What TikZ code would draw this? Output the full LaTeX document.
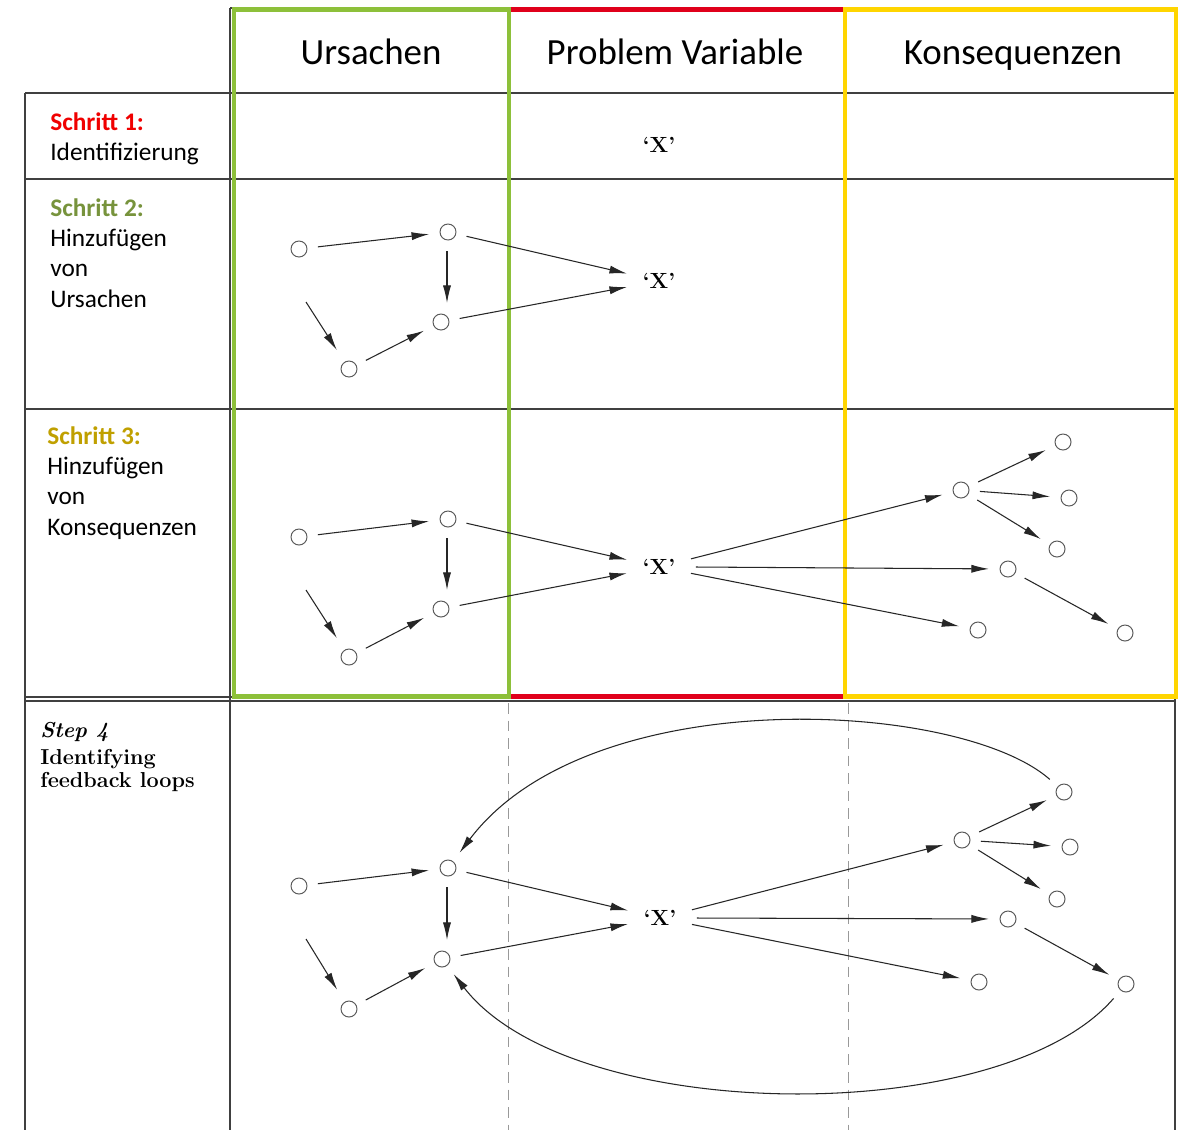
\documentclass[tikz,border=0pt]{standalone}
\usepackage{fontspec}
\newfontfamily\calib{Carlito}
\usetikzlibrary{arrows.meta}
\definecolor{boxgreen}{HTML}{8DC03A}
\definecolor{boxred}{HTML}{E0001B}
\definecolor{boxyellow}{HTML}{FFD500}
\definecolor{labred}{HTML}{F00000}
\definecolor{labgreen}{HTML}{77933C}
\definecolor{labyellow}{HTML}{C0A000}
\begin{document}
\begin{tikzpicture}[x=0.02cm,y=-0.02cm,
  tline/.style={draw=black!75, line width=0.7pt},
  dline/.style={draw=black!40, line width=0.5pt, dash pattern=on 6pt off 4pt},
  circ/.style={circle, draw=black!65, line width=0.55pt, minimum size=0.32cm, inner sep=0pt, outer sep=0.22cm},
  xnode/.style={font=\bfseries\fontsize{12.5}{14}\selectfont, inner sep=1pt, outer sep=0.28cm},
  arr/.style={-{Latex[length=10pt,width=4.6pt]}, draw=black!85, line width=0.6pt},
  head/.style={font=\calib\fontsize{21}{25}\selectfont, anchor=base},
  lab/.style={font=\calib\fontsize{14.4}{17.1}\selectfont, align=left, anchor=north west, inner sep=0pt},
  slab/.style={font=\fontsize{12.3}{13.2}\selectfont, align=left, anchor=north west, inner sep=0pt}]
\useasboundingbox (0,0) rectangle (1182,1130);
\fill[white] (0,0) rectangle (1182,1130);

% ---------- table grid ----------
\draw[tline] (230,8) -- (1175,8);
\draw[tline] (230,8) -- (230,1130);
\draw[tline] (508,8) -- (508,698);
\draw[tline] (845,8) -- (845,698);
\draw[tline] (1175,8) -- (1175,1130);
\draw[tline] (25,93) -- (25,1130);
\draw[tline] (25,93) -- (1175,93);
\draw[tline] (25,179) -- (1175,179);
\draw[tline] (25,409) -- (1175,409);
\draw[tline] (25,697) -- (1175,697);
\draw[tline] (25,701) -- (1175,701);
\draw[dline] (508,703) -- (508,1130);
\draw[dline] (848,703) -- (848,1130);

% ---------- coloured frames ----------
\draw[boxred, line width=2.8pt] (509,9.5) -- (845,9.5);
\draw[boxred, line width=2.8pt] (509,696.5) -- (845,696.5);
\draw[boxgreen, line width=2.8pt] (234,9.5) rectangle (509,696.5);
\draw[boxyellow, line width=2.8pt] (845,9.5) rectangle (1176,696.5);

% ---------- headers ----------
\node[head] (h1) at (371,64) {Ursachen};
\node[head] (h2) at (675,64) {Problem Variable};
\node[head] (h3) at (1013,64) {Konsequenzen};

% ---------- row labels ----------
\node[lab] (l1) at (50,112) {\textbf{\color{labred}Schritt 1:}\\Identifizierung};
\node[lab, font=\calib\fontsize{14.4}{17.3}\selectfont] (l2) at (50,198) {\textbf{\color{labgreen}Schritt 2:}\\Hinzufügen\\von\\Ursachen};
\node[lab, font=\calib\fontsize{14.4}{17.3}\selectfont] (l3) at (47,426) {\textbf{\color{labyellow}Schritt 3:}\\Hinzufügen\\von\\Konsequenzen};
\node[slab] (l4) at (40,722) {\textit{\textbf{Step 4}}\\[2pt]\textbf{Identifying}\\\textbf{feedback loops}};

% ---------- row 1 ----------
\node[xnode] (x1) at (659,145) {`X'};

% ---------- row 2 ----------
\node[xnode] (x2) at (659,281) {`X'};
\node[circ] (a1) at (299,249) {};
\node[circ] (a2) at (448,232) {};
\node[circ] (a3) at (441,322) {};
\node[circ] (a4) at (349,369) {};
\coordinate (s2) at (306,302);
\draw[arr] (a1) -- (a2);
\draw[arr] ([xshift=-0.02cm]a2.south) -- ([xshift=-0.02cm]a2.south |- a3.north);
\draw[arr, shorten >=2pt] (s2) -- (a4);
\draw[arr] (a4) -- (a3);
\draw[arr] (a2) -- (x2);
\draw[arr] (a3) -- (x2);

% ---------- row 3 ----------
\node[xnode] (x3) at (659,567) {`X'};
\node[circ] (b1) at (299,537) {};
\node[circ] (b2) at (448,519) {};
\node[circ] (b3) at (441,609) {};
\node[circ] (b4) at (349,657) {};
\coordinate (s3) at (306,590);
\draw[arr] (b1) -- (b2);
\draw[arr] ([xshift=-0.02cm]b2.south) -- ([xshift=-0.02cm]b2.south |- b3.north);
\draw[arr, shorten >=2pt] (s3) -- (b4);
\draw[arr] (b4) -- (b3);
\draw[arr] (b2) -- (x3);
\draw[arr] (b3) -- (x3);
\node[circ] (c1) at (961,490) {};
\node[circ] (c1a) at (1063,442) {};
\node[circ] (c1b) at (1069,498) {};
\node[circ] (c1c) at (1057,549) {};
\node[circ] (c2) at (1008,569) {};
\node[circ] (c3) at (1125,633) {};
\node[circ] (c4) at (978,630) {};
\draw[arr] (x3) -- (c1);
\draw[arr] (x3.east) ++(0.1cm,0) -- (c2);
\draw[arr] (x3) -- (c4);
\draw[arr] (c1) -- (c1a);
\draw[arr] (c1) -- (c1b);
\draw[arr] (c1) -- (c1c);
\draw[arr] (c2) -- (c3);

% ---------- row 4 ----------
\node[xnode] (x4) at (660,918) {`X'};
\node[circ] (d1) at (299,886) {};
\node[circ] (d2) at (448,868) {};
\node[circ] (d3) at (442,959) {};
\node[circ] (d4) at (349,1009) {};
\coordinate (s4) at (306,939);
\draw[arr] (d1) -- (d2);
\draw[arr] ([xshift=-0.02cm]d2.south) -- ([xshift=-0.02cm]d2.south |- d3.north);
\draw[arr, shorten >=2pt] (s4) -- (d4);
\draw[arr] (d4) -- (d3);
\draw[arr] (d2) -- (x4);
\draw[arr] (d3) -- (x4);
\node[circ] (e1) at (962,840) {};
\node[circ] (e1a) at (1064,792) {};
\node[circ] (e1b) at (1070,847) {};
\node[circ] (e1c) at (1057,899) {};
\node[circ] (e2) at (1008,919) {};
\node[circ] (e3) at (1126,984) {};
\node[circ] (e4) at (979,982) {};
\draw[arr] (x4) -- (e1);
\draw[arr] (x4.east) ++(0.1cm,0) -- (e2);
\draw[arr] (x4) -- (e4);
\draw[arr] (e1) -- (e1a);
\draw[arr] (e1) -- (e1b);
\draw[arr] (e1) -- (e1c);
\draw[arr] (e2) -- (e3);
\draw[arr] (e1a) .. controls (960,700) and (590,680) .. (d2);
\draw[arr] (e3) .. controls (1000,1130) and (570,1125) .. (d3);
\end{tikzpicture}
\end{document}
